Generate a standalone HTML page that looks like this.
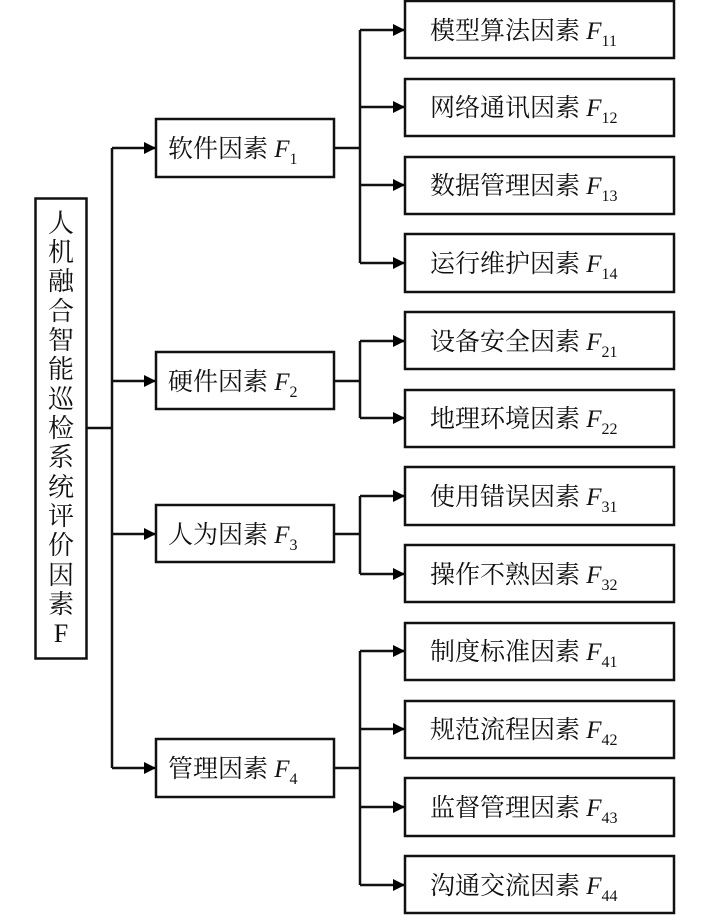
<!DOCTYPE html>
<html><head><meta charset="utf-8"><style>
html,body{margin:0;padding:0;background:#fff;}
svg{display:block}
text{font-family:"Liberation Serif","Noto Serif CJK SC",serif;fill:#111;}
</style></head><body>
<svg width="709" height="915" viewBox="0 0 709 915" xmlns="http://www.w3.org/2000/svg">
<defs><marker id="a" markerWidth="12" markerHeight="12" refX="11" refY="6" orient="auto" markerUnits="userSpaceOnUse"><path d="M0,0 L12,6 L0,12 Z" fill="#000"/></marker></defs>
<g stroke="#111" stroke-width="2.5" fill="none">
<rect x="35.5" y="198.5" width="51" height="460"/>
<path d="M86,428 H112 M112,148 V768"/>
<path d="M112,148 H155" marker-end="url(#a)"/>
<path d="M112,381 H155" marker-end="url(#a)"/>
<path d="M112,534 H155" marker-end="url(#a)"/>
<path d="M112,768 H155" marker-end="url(#a)"/>
<rect x="156" y="119" width="178" height="58"/>
<rect x="156" y="352" width="178" height="57"/>
<rect x="156" y="505" width="178" height="57"/>
<rect x="156" y="739" width="178" height="58"/>
<path d="M334,148 H360 M360,30 V263"/>
<path d="M334,381 H360 M360,341 V418"/>
<path d="M334,534 H360 M360,496 V574"/>
<path d="M334,768 H360 M360,651 V885"/>
</g>
<g stroke="#111" stroke-width="2.5" fill="none">
<path d="M360,30 H404" marker-end="url(#a)"/><path d="M360,107 H404" marker-end="url(#a)"/>
<path d="M360,185 H404" marker-end="url(#a)"/><path d="M360,263 H404" marker-end="url(#a)"/>
<path d="M360,341 H404" marker-end="url(#a)"/><path d="M360,418 H404" marker-end="url(#a)"/>
<path d="M360,496 H404" marker-end="url(#a)"/><path d="M360,574 H404" marker-end="url(#a)"/>
<path d="M360,651 H404" marker-end="url(#a)"/><path d="M360,729 H404" marker-end="url(#a)"/>
<path d="M360,807 H404" marker-end="url(#a)"/><path d="M360,885 H404" marker-end="url(#a)"/>
<rect x="405" y="1" width="269" height="57"/><rect x="405" y="79" width="269" height="57"/>
<rect x="405" y="157" width="269" height="57"/><rect x="405" y="234" width="269" height="58"/>
<rect x="405" y="312" width="269" height="57"/><rect x="405" y="390" width="269" height="57"/>
<rect x="405" y="467" width="269" height="58"/><rect x="405" y="545" width="269" height="57"/>
<rect x="405" y="623" width="269" height="57"/><rect x="405" y="701" width="269" height="57"/>
<rect x="405" y="778" width="269" height="58"/><rect x="405" y="856" width="269" height="57"/>
</g>
<g font-size="26" text-anchor="middle">
<text x="61" y="232">人</text><text x="61" y="261">机</text><text x="61" y="290">融</text><text x="61" y="320">合</text><text x="61" y="349">智</text><text x="61" y="378">能</text><text x="61" y="408">巡</text><text x="61" y="437">检</text><text x="61" y="466">系</text><text x="61" y="496">统</text><text x="61" y="525">评</text><text x="61" y="554">价</text><text x="61" y="584">因</text><text x="61" y="613">素</text><text x="61" y="642">F</text>
</g>
<g font-size="25">
<text x="168" y="157">软件因素 <tspan font-style="italic">F</tspan><tspan font-size="16" dy="7">1</tspan></text>
<text x="168" y="390">硬件因素 <tspan font-style="italic">F</tspan><tspan font-size="16" dy="7">2</tspan></text>
<text x="168" y="543">人为因素 <tspan font-style="italic">F</tspan><tspan font-size="16" dy="7">3</tspan></text>
<text x="168" y="777">管理因素 <tspan font-style="italic">F</tspan><tspan font-size="16" dy="7">4</tspan></text>
<text x="430" y="39">模型算法因素 <tspan font-style="italic">F</tspan><tspan font-size="16" dy="7">11</tspan></text>
<text x="430" y="116">网络通讯因素 <tspan font-style="italic">F</tspan><tspan font-size="16" dy="7">12</tspan></text>
<text x="430" y="194">数据管理因素 <tspan font-style="italic">F</tspan><tspan font-size="16" dy="7">13</tspan></text>
<text x="430" y="272">运行维护因素 <tspan font-style="italic">F</tspan><tspan font-size="16" dy="7">14</tspan></text>
<text x="430" y="350">设备安全因素 <tspan font-style="italic">F</tspan><tspan font-size="16" dy="7">21</tspan></text>
<text x="430" y="427">地理环境因素 <tspan font-style="italic">F</tspan><tspan font-size="16" dy="7">22</tspan></text>
<text x="430" y="505">使用错误因素 <tspan font-style="italic">F</tspan><tspan font-size="16" dy="7">31</tspan></text>
<text x="430" y="583">操作不熟因素 <tspan font-style="italic">F</tspan><tspan font-size="16" dy="7">32</tspan></text>
<text x="430" y="660">制度标准因素 <tspan font-style="italic">F</tspan><tspan font-size="16" dy="7">41</tspan></text>
<text x="430" y="738">规范流程因素 <tspan font-style="italic">F</tspan><tspan font-size="16" dy="7">42</tspan></text>
<text x="430" y="816">监督管理因素 <tspan font-style="italic">F</tspan><tspan font-size="16" dy="7">43</tspan></text>
<text x="430" y="894">沟通交流因素 <tspan font-style="italic">F</tspan><tspan font-size="16" dy="7">44</tspan></text>
</g>
</svg>
</body></html>
